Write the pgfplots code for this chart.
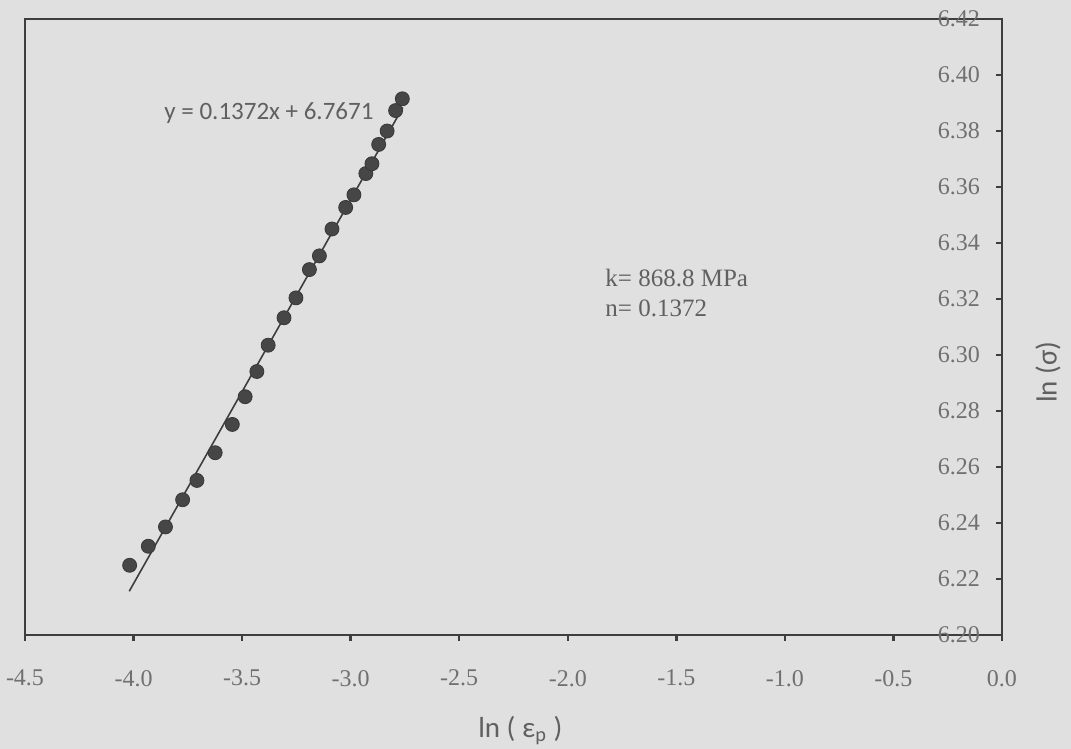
\documentclass[border=0pt]{standalone}
\usepackage{pgfplots}
\pgfplotsset{compat=1.18}
\usepackage{fontspec}
\setmainfont{Liberation Serif}
\newfontfamily\calfont{Carlito}

\definecolor{bg}{RGB}{224,224,224}
\definecolor{framecol}{RGB}{62,62,62}
\definecolor{ticktext}{RGB}{112,112,112}
\definecolor{labeltext}{RGB}{96,96,96}
\definecolor{dotcol}{RGB}{70,70,70}

\begin{document}
\begin{tikzpicture}
\fill[bg] (-12.5pt,-57pt) rectangle (523pt,317.5pt);
\useasboundingbox (-12.5pt,-57pt) rectangle (523pt,317.5pt);
\begin{axis}[
  at={(0,0)}, anchor=south west,
  scale only axis, width=488.5pt, height=308pt,
  xmin=-4.5, xmax=0, ymin=6.2, ymax=6.42,
  enlargelimits=false,
  xtick={-4.5,-4.0,-3.5,-3.0,-2.5,-2.0,-1.5,-1.0,-0.5,0.0},
  ytick={6.20,6.22,6.24,6.26,6.28,6.30,6.32,6.34,6.36,6.38,6.40,6.42},
  xtick pos=bottom, ytick pos=right,
  tick align=inside, major tick length=3pt,
  axis line style={framecol, line width=1.4pt},
  tick style={framecol, line width=1.2pt},
  xtick style={yshift=-3pt},
  /pgf/number format/assume math mode=true,
  xticklabel style={/pgf/number format/.cd, fixed, fixed zerofill, precision=1, /tikz/.cd,
    font=\fontsize{12}{14}\selectfont, text=ticktext, yshift=-14pt},
  yticklabel style={/pgf/number format/.cd, fixed, fixed zerofill, precision=2, /tikz/.cd,
    font=\fontsize{12}{14}\selectfont, text=ticktext, anchor=east, xshift=-7.5pt},
  xlabel={ln ( ε\textsubscript{p} )},
  ylabel={ln (σ)},
  xlabel style={at={(axis description cs:0.507,-0.1656)}, anchor=base,
    font=\calfont\fontsize{14.5}{16}\selectfont, text=labeltext},
  ylabel style={at={(axis description cs:1.047,0.427)}, anchor=center,
    font=\calfont\fontsize{14.5}{16}\selectfont, text=labeltext},
]
% linear fit of ln(sigma) against ln(eps_p)
\addplot[no marks, color=framecol, line width=0.8pt]
  coordinates {(-4.02,6.2156) (-2.76,6.3884)};
% measured points
\addplot[only marks, mark=*, mark size=3.5pt,
  mark options={fill=dotcol, draw=dotcol!80!black, line width=0.4pt}]
  coordinates {
  (-4.018,6.2249) (-3.932,6.2317) (-3.853,6.2386) (-3.774,6.2483)
  (-3.708,6.2552) (-3.624,6.2651) (-3.545,6.2752) (-3.486,6.2851)
  (-3.432,6.2941) (-3.380,6.3035) (-3.307,6.3133) (-3.252,6.3204)
  (-3.190,6.3305) (-3.144,6.3354) (-3.086,6.3450) (-3.023,6.3527)
  (-2.985,6.3572) (-2.930,6.3648) (-2.902,6.3683) (-2.871,6.3752)
  (-2.832,6.3800) (-2.793,6.3873) (-2.762,6.3915)
  };
\node[font=\calfont\fontsize{12.5}{15}\selectfont, text=labeltext]
  at (rel axis cs:0.2497,0.8474) {y = 0.1372x + 6.7671};
\node[anchor=west, align=left, inner sep=0pt, text=labeltext,
  font=\fontsize{12.5}{15}\selectfont]
  at (rel axis cs:0.5937,0.555) {k= 868.8 MPa\\n= 0.1372};
\end{axis}
\end{tikzpicture}
\end{document}
